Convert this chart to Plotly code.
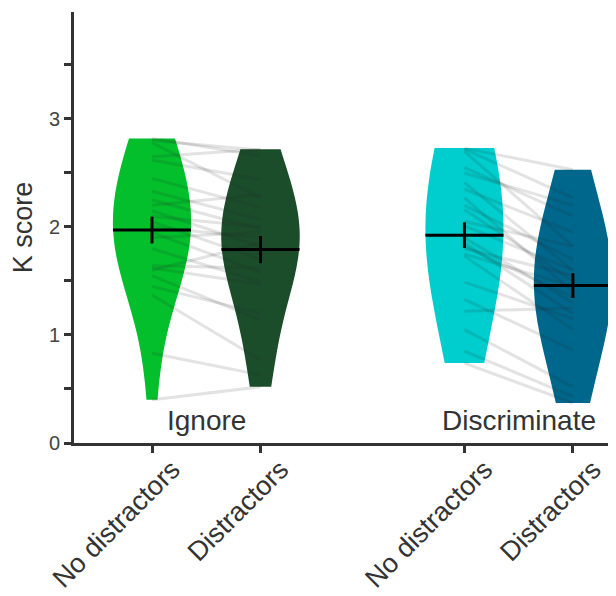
import plotly.graph_objects as go
import numpy as np

# ---- data ----
categories = ["No distractors", "Distractors", "No distractors", "Distractors"]
groups = ["Ignore", "Discriminate"]
positions = [1.0, 2.0, 3.88, 4.88]

ignore_no = [2.82, 2.80, 2.78, 2.65, 2.62, 2.45, 2.33, 2.25, 2.20, 2.15, 2.10, 2.05,
             2.00, 1.95, 1.90, 1.80, 1.64, 1.62, 1.60, 1.55, 1.45, 1.37, 0.83, 0.40]
ignore_dis = [2.66, 2.71, 2.27, 2.72, 2.44, 2.18, 2.07, 1.98, 2.30, 1.82, 2.00, 1.70,
              1.90, 1.58, 1.95, 1.49, 1.62, 1.47, 1.85, 1.14, 1.20, 0.77, 0.63, 0.52]
discr_no = [2.73, 2.72, 2.70, 2.55, 2.50, 2.41, 2.35, 2.27, 2.20, 2.16, 2.05, 2.01,
            1.90, 1.82, 1.73, 1.80, 1.85, 1.49, 1.75, 1.33, 1.22, 1.05, 0.85, 0.74]
discr_dis = [2.53, 2.27, 1.82, 2.10, 2.20, 1.60, 1.95, 1.40, 1.70, 1.50, 1.82, 1.60,
             1.30, 1.35, 1.05, 1.55, 1.20, 1.15, 1.45, 0.86, 1.25, 0.52, 0.43, 0.37]

series = [ignore_no, ignore_dis, discr_no, discr_dis]
colors = ["#03BF2C", "#1B4D2B", "#00CDCD", "#00678C"]
bandwidths = [0.5, 0.46, 0.85, 0.65]
ytick_vals = [0, 1, 2, 3]

FONT = "Liberation Sans"
TXT = "#333333"
vw = 0.72

fig = go.Figure()

# violins
for pos, vals, col, bw in zip(positions, series, colors, bandwidths):
    fig.add_trace(go.Violin(
        x=[pos] * len(vals), y=vals, width=vw, spanmode="hard", bandwidth=bw,
        points=False, fillcolor=col, line=dict(width=0, color=col),
        opacity=1, box_visible=False, meanline_visible=False,
        showlegend=False, hoverinfo="skip"))

# paired lines
for (a, b) in [(0, 1), (2, 3)]:
    for v1, v2 in zip(series[a], series[b]):
        fig.add_trace(go.Scatter(
            x=[positions[a], positions[b]], y=[v1, v2], mode="lines",
            line=dict(color="rgba(40,40,40,0.13)", width=3),
            showlegend=False, hoverinfo="skip"))

# means and SEM
for pos, vals in zip(positions, series):
    arr = np.array(vals)
    m = arr.mean()
    se = arr.std(ddof=1) / np.sqrt(len(arr))
    fig.add_trace(go.Scatter(
        x=[pos - vw / 2, pos + vw / 2], y=[m, m], mode="lines",
        line=dict(color="black", width=3), showlegend=False, hoverinfo="skip"))
    fig.add_trace(go.Scatter(
        x=[pos], y=[m], mode="markers", marker=dict(size=1, color="black", opacity=0),
        error_y=dict(type="data", array=[se], color="black", thickness=3, width=0),
        showlegend=False, hoverinfo="skip"))

# group labels
for gi, g in enumerate(groups):
    fig.add_annotation(x=(positions[2 * gi] + positions[2 * gi + 1]) / 2, y=0.0,
                       yshift=5, text=g, showarrow=False, yanchor="bottom",
                       font=dict(family=FONT, size=28, color=TXT))

fig.update_layout(
    width=608, height=588,
    margin=dict(l=66, r=0, t=4, b=153),
    plot_bgcolor="white", paper_bgcolor="white",
    violinmode="overlay",
    font=dict(family=FONT, color=TXT),
    xaxis=dict(range=[0.281, 5.277], tickvals=positions, ticktext=categories,
               tickangle=-45, ticks="outside", ticklen=7, tickwidth=3, tickcolor="#333",
               showline=True, linecolor="#333", linewidth=3, showgrid=False, zeroline=False,
               automargin=False, ticklabelshift=20, ticklabelstandoff=-10,
               tickfont=dict(family=FONT, size=27, color=TXT)),
    yaxis=dict(range=[0, 3.99], tickvals=ytick_vals, ticks="outside", ticklen=7,
               tickwidth=3, tickcolor="#333",
               minor=dict(dtick=0.5, tick0=0, ticks="outside", ticklen=7, tickwidth=3,
                          tickcolor="#333"),
               showline=True, linecolor="#333", linewidth=3, showgrid=False, zeroline=False,
               automargin=False,
               tickfont=dict(family=FONT, size=20, color="#444"),
               title=dict(text="K score", font=dict(family=FONT, size=27, color=TXT),
                          standoff=12)),
)

fig.write_html("out.html")
